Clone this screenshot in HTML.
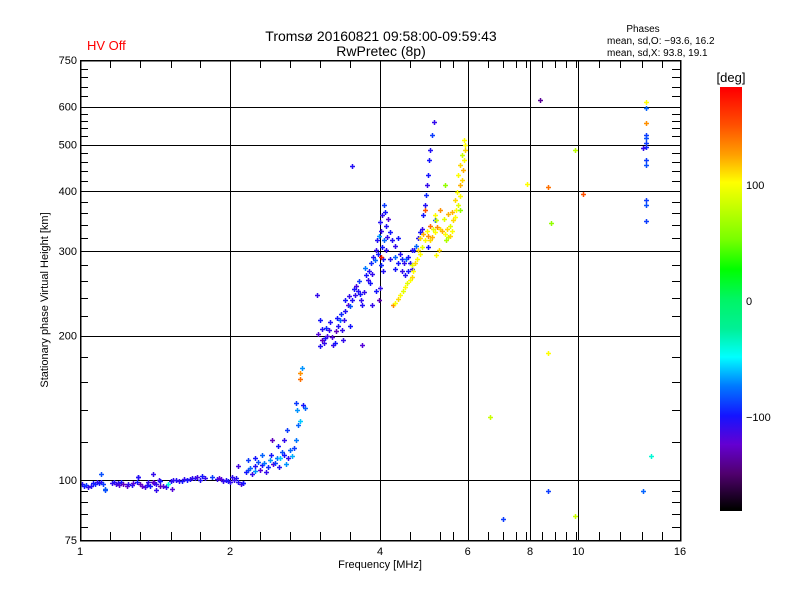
<!DOCTYPE html>
<html><head><meta charset="utf-8"><style>
body{margin:0;background:#fff;}
svg text{font-family:"Liberation Sans",sans-serif;fill:#000;}
</style></head><body>
<svg id="chart" width="800" height="600" xmlns="http://www.w3.org/2000/svg" shape-rendering="crispEdges">
<defs>
<linearGradient id="cbar" x1="0" y1="1" x2="0" y2="0">
<stop offset="0.5%" stop-color="rgb(0,0,0)"/>
<stop offset="8.8%" stop-color="rgb(80,0,110)"/>
<stop offset="15.7%" stop-color="rgb(100,0,210)"/>
<stop offset="22.5%" stop-color="rgb(20,20,255)"/>
<stop offset="29.4%" stop-color="rgb(0,120,255)"/>
<stop offset="36.3%" stop-color="rgb(0,255,255)"/>
<stop offset="43%" stop-color="rgb(0,240,150)"/>
<stop offset="50%" stop-color="rgb(0,245,100)"/>
<stop offset="57%" stop-color="rgb(0,255,0)"/>
<stop offset="64%" stop-color="rgb(120,255,0)"/>
<stop offset="77.5%" stop-color="rgb(255,255,0)"/>
<stop offset="84%" stop-color="rgb(255,160,0)"/>
<stop offset="91%" stop-color="rgb(255,80,0)"/>
<stop offset="99.5%" stop-color="rgb(255,0,0)"/>
</linearGradient>
</defs>
<text x="87" y="50" font-size="13" style="fill:#ff0000">HV Off</text>
<text x="381" y="41" font-size="14" text-anchor="middle">Tromsø 20160821 09:58:00-09:59:43</text>
<text x="381" y="56" font-size="14" text-anchor="middle">RwPretec (8p)</text>
<text x="643" y="32" font-size="10" text-anchor="middle">Phases</text>
<text x="607" y="44" font-size="10">mean, sd,O: −93.6, 16.2</text>
<text x="607" y="56" font-size="10">mean, sd,X:  93.8, 19.1</text>
<g id="grid"></g>
<g id="ticks"></g>
<g id="marks" shape-rendering="auto"></g>
<rect x="80.5" y="60.5" width="600" height="480" fill="none" stroke="#000" stroke-width="1.5"/>
<g id="labels"></g>
<text x="380" y="568" font-size="11" text-anchor="middle">Frequency [MHz]</text>
<text transform="translate(48,300) rotate(-90)" font-size="11" text-anchor="middle">Stationary phase Virtual Height [km]</text>
<rect x="720" y="87" width="22" height="424" fill="url(#cbar)"/>
<text x="731" y="82" font-size="13" text-anchor="middle">[deg]</text>
<text x="746" y="189" font-size="11">100</text>
<text x="746" y="305" font-size="11">0</text>
<text x="746" y="421" font-size="11">−100</text>
</svg>
<script>
const xTickValues=[1,2,4,6,8,10,16];
const xTickLabels=["1","2","4","6","8","10","16"];
const xGridValues=[2,4,6,8,10];
const xMinorValues=[1.15,1.32,1.52,1.74,2.3,2.64,3.03,3.48,4.59,5.28,5.6,6.6,7.05,7.5,7.85,8.45,9.0,9.45,9.9,11.0,12.1,13.4,14.7];
const yTickValues=[75,100,200,300,400,500,600,750];
const yTickLabels=["75","100","200","300","400","500","600","750"];
const yGridValues=[100,200,300,400,500,600];
const yMinorValues=[80,85,90,95,120,140,160,180,220,240,260,280,320,340,360,380,420,440,460,480,520,540,560,580,630,660,690,720];

const freqs=[
1.01,1.02,1.03,1.04,1.05,1.06,1.07,1.08,1.09,1.10,1.11,1.10,1.12,1.16,1.17,1.18,1.19,1.20,1.21,1.22,
1.24,1.25,1.27,1.28,1.30,1.31,1.32,1.33,1.35,1.36,1.37,1.38,1.40,1.41,1.42,1.44,1.45,1.47,1.49,1.50,
1.52,1.54,1.56,1.58,1.60,1.62,1.64,1.66,1.68,1.70,1.72,1.74,1.76,1.78,1.84,1.88,1.90,1.92,1.94,1.96,
1.98,2.00,1.12,1.31,1.40,1.45,1.53,1.42,
2.02,2.06,2.10,2.12,2.15,2.17,2.19,2.21,2.24,2.25,2.28,2.30,2.32,2.34,2.36,2.38,2.41,2.42,2.44,2.46,
2.49,2.51,2.52,2.54,2.57,2.59,2.62,2.64,2.66,2.69,2.71,2.74,2.76,2.73,2.71,2.76,2.79,2.80,2.83,2.60,
2.57,2.50,2.43,2.32,2.25,2.17,2.08,2.76,2.04,2.08,2.12,
2.99,3.03,3.0,3.06,3.06,3.09,3.10,3.13,3.12,3.16,3.17,3.20,3.22,3.25,3.26,3.29,3.32,3.35,3.28,3.34,
3.38,3.41,3.45,3.40,3.46,3.49,3.51,3.56,3.54,3.58,3.61,3.64,3.63,3.66,3.68,3.71,3.75,3.73,3.79,3.80,
3.82,3.86,3.84,3.87,3.91,3.93,3.96,3.95,3.98,4.02,4.04,4.0,4.04,4.08,4.10,4.11,4.15,4.08,4.13,4.19,
4.23,4.29,4.35,4.39,4.43,4.47,4.51,4.55,4.59,4.64,4.68,4.72,4.77,4.81,4.86,4.88,4.93,4.95,4.98,5.0,
5.02,5.04,5.09,5.14,5.16,5.0,4.06,4.0,3.98,3.93,4.02,4.06,4.11,4.19,4.29,4.35,4.43,4.49,4.55,4.64,
4.29,3.86,3.68,3.48,3.37,3.03,4.02,3.51,
4.25,4.29,4.35,4.39,4.45,4.49,4.53,4.59,4.64,4.66,4.64,4.70,4.75,4.81,4.77,4.86,4.93,4.81,4.88,4.98,
5.0,5.04,5.09,5.16,5.11,5.21,5.28,5.33,5.41,5.45,5.48,5.43,5.53,5.58,5.53,5.61,5.66,5.58,5.68,5.74,
5.66,5.79,5.71,5.79,5.84,5.74,5.87,5.79,5.90,5.84,5.92,5.92,5.90,5.28,5.16,5.04,5.38,5.48,5.26,5.19,
4.93,5.41,5.79,5.19,
8.38,8.7,8.83,9.85,7.9,8.7,10.2,6.64,7.05,8.7,9.85,13.5,14.0,13.7,13.7,13.7,13.7,13.7,13.7,13.7,
13.5,13.7,13.7,13.7,13.7,13.7];
const heights=[
98,97,97.5,96.5,97,98.5,98,99,98.5,99,98,103,96,98.5,99,98,98.5,97.5,99,98,
97,98,97.5,98.5,99,101.5,98,97,96.5,97.5,99,97,99,98.5,98,100,99.5,97,96.5,98,
99.5,100,100,99.5,99.5,100.5,100,100.5,101,101,101.5,100,102,101,101.5,100.5,101,100.5,99.5,100,
99.5,99,95.5,101.5,103,97,96,95.5,
101.4,100.9,98,98.5,103.9,104.9,105.9,102.9,104.4,106.9,109,105,107.4,108.5,104,106.4,110,112.7,107.9,108.5,
111,106.4,111,114.4,112.7,108,111,115.5,112,116.6,121,130,133,140,145,167,171,143.5,141.5,127,
121,118,121,112.7,111,110,106.9,162,100,99,98.5,
243,215,201,206,196,193,198,200,207,205,213,199,191,193,204,209,215,205,218,222,
215,225,231,237,242,230,237,243,250,254,248,244,260,237,231,246,268,277,261,273,
257,269,283,291,287,302,296,316,323,331,306,345,357,374,362,339,350,316,321,328,
316,307,319,296,289,283,289,292,283,301,302,307,319,328,334,357,374,392,412,432,
464,487,524,558,348,306,273,251,237,248,280,289,301,289,292,283,273,267,273,275,
275,231,191,209,196,190,291,451,
231.5,234,238,243,248,252,257,261,265,273,280,283,289,296,302,306,316,320,326,331,
323,316,321,328,334,337,334,331,326,334,321,316,323,331,339,348,353,362,365,374,
383,390,398,412,422,432,442,453,464,476,487,499,511,365,357,339,350,358,301,294,
365,412,365,348,
620,408,343,487,414,184,395,135,83,95,84,95,112,613,596,554,523,516,503,494,
492,464,453,383,374,346];
const phases=[
-105,-100,-90,-110,-105,-100,-95,-110,-100,-105,-90,-85,-80,-110,-105,-115,-110,-120,-100,-130,
-125,-110,-105,-120,-100,-110,-130,-125,-115,-105,-110,-100,-130,-120,-110,-115,-100,-120,-110,-40,
-105,-110,-105,-110,-100,-110,-100,-105,-110,-105,-115,-105,-100,-110,-90,-110,-125,-120,-110,-105,
-100,-110,-85,-105,-110,-130,-120,-110,
-110,-105,-115,-110,-100,-90,-80,-110,-70,-105,-85,-120,-100,-75,-110,-95,-70,-100,-120,-90,
-75,-105,-60,-85,-100,-70,-110,-80,-65,-90,-75,-80,-60,-70,-90,130,-70,-100,-80,-90,
-110,-100,-130,-80,-100,-90,-115,140,-110,-105,-100,
-110,-100,-120,-105,-130,-110,-100,-115,-95,-110,-105,-120,-110,-100,-130,-105,-80,-110,-100,-95,
-110,-105,-120,-100,-110,-85,-105,-110,-100,-115,-105,-100,-90,-110,-105,-110,-100,-75,-110,-105,
-100,-110,-95,-105,-80,-110,-100,-105,-70,-110,-100,-105,-110,-90,-100,-105,-120,-80,-110,-100,
-105,-110,-100,-105,-95,-110,-80,-100,-105,-110,-100,-80,-105,-100,-110,-100,-105,-95,-110,-100,
-100,-105,-90,-110,-85,-100,-105,-110,-130,-100,-95,-100,-110,-105,-80,-100,-110,-105,-100,-110,
-100,-110,-120,-100,-110,-105,170,-105,
130,100,110,100,90,100,90,100,110,100,90,110,100,100,110,90,100,110,120,100,
130,110,120,100,90,130,110,120,100,110,80,70,110,100,90,110,100,120,100,90,
110,100,100,120,110,100,120,110,100,80,110,100,100,130,100,140,90,120,110,100,
150,60,60,80,
-140,140,60,75,100,100,150,80,-90,-90,80,-80,-40,100,-80,130,-90,-85,-90,-95,
-110,-90,-85,-90,-85,-90];

const NS='http://www.w3.org/2000/svg';
function xs(f){return 80+150*Math.log2(f);}
function ys(h){return 540-480*Math.log10(h/75);}
const cStops=[[-180,0,0,0],[-150,80,0,110],[-125,100,0,210],[-100,20,20,255],[-75,0,120,255],[-50,0,255,255],[-25,0,240,150],[0,0,245,100],[25,0,255,0],[50,120,255,0],[100,255,255,0],[125,255,160,0],[150,255,80,0],[180,255,0,0]];
function pcol(p){
  for(let i=1;i<cStops.length;i++){
    if(p<=cStops[i][0]){const a=cStops[i-1],b=cStops[i];const t=Math.max(0,(p-a[0])/(b[0]-a[0]));
      return 'rgb('+[1,2,3].map(k=>Math.round(a[k]+(b[k]-a[k])*t)).join(',')+')';}
  }
  return 'rgb(255,0,0)';
}
function mk(tag,attrs,parent){const e=document.createElementNS(NS,tag);for(const k in attrs)e.setAttribute(k,attrs[k]);parent.appendChild(e);return e;}
const grid=document.getElementById('grid'),ticks=document.getElementById('ticks'),labels=document.getElementById('labels'),marks=document.getElementById('marks');
xGridValues.forEach(v=>{const x=Math.round(xs(v))+0.5;
  const l=mk('line',{x1:x,y1:60,x2:x,y2:540,stroke:'#000','stroke-width':1.3},grid);
  
  });
yGridValues.forEach(v=>{const y=Math.round(ys(v))+0.5;
  const l=mk('line',{x1:80,y1:y,x2:680,y2:y,stroke:'#000','stroke-width':1.3},grid);
  
  });
xMinorValues.forEach(v=>{const x=Math.round(xs(v))+0.5;
  [[540,532],[60,68]].forEach(p=>{const l=mk('line',{x1:x,y1:p[0],x2:x,y2:p[1],stroke:'#000','stroke-width':1},ticks);
  
  });});
yMinorValues.forEach(v=>{const y=Math.round(ys(v))+0.5;
  [[80,88],[680,672]].forEach(p=>{const l=mk('line',{x1:p[0],y1:y,x2:p[1],y2:y,stroke:'#000','stroke-width':1},ticks);
  
  });});
xTickValues.forEach((v,i)=>{const t=mk('text',{x:xs(v),y:555,'font-size':11,'text-anchor':'middle'},labels);t.textContent=xTickLabels[i];
  
  });
yTickValues.forEach((v,i)=>{const t=mk('text',{x:77,y:ys(v)+4,'font-size':11,'text-anchor':'end'},labels);t.textContent=yTickLabels[i];
  
  });
freqs.forEach((f,i)=>{const x=Math.round(xs(f)),y=Math.round(ys(heights[i]));const c=pcol(phases[i]);
  const g=mk('g',{},marks);
  
  
  mk('rect',{x:x-2,y:y-0.25,width:5,height:1.5,fill:c},g);
  mk('rect',{x:x-0.25,y:y-2,width:1.5,height:5,fill:c},g);
});
</script>
</body></html>
